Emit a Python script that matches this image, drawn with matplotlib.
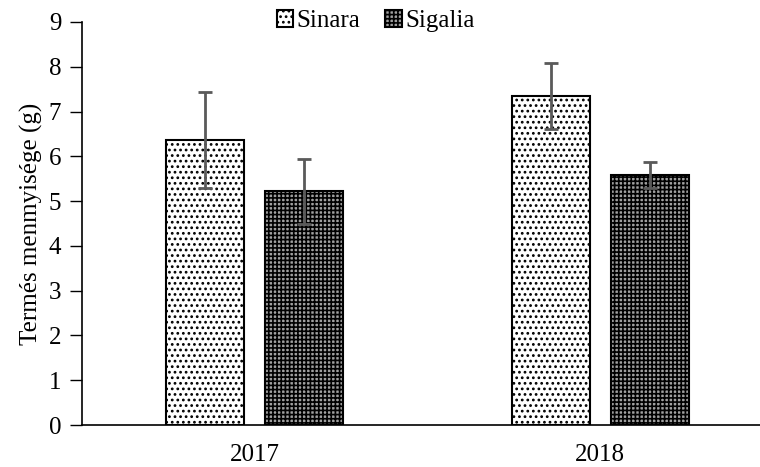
import matplotlib
matplotlib.use("Agg")
import matplotlib.pyplot as plt
import numpy as np

years = ["2017", "2018"]
sinara = [6.36, 7.34]
sinara_err = [1.07, 0.74]
sigalia = [5.22, 5.58]
sigalia_err = [0.73, 0.29]
yticks = list(range(0, 10))

plt.rcParams['font.family'] = ['Liberation Serif', 'DejaVu Serif']
plt.rcParams['hatch.linewidth'] = 1.2

fig = plt.figure(figsize=(7.6, 4.67), dpi=100)
ax = fig.add_axes([82/760, 42/467, 691/760, 403/467])

x = np.arange(len(years))
w = 0.226
off = 0.143
ekw = dict(ecolor='#5a5a5a', elinewidth=2, capsize=5, capthick=2)
b1 = ax.bar(x - off, sinara, w, color='white', edgecolor='black', linewidth=1.5,
            hatch='...', yerr=sinara_err, error_kw=ekw, label='Sinara', zorder=2)
b2 = ax.bar(x + off, sigalia, w, color='#a0a0a0', edgecolor='black', linewidth=1.5,
            hatch='++++', yerr=sigalia_err, error_kw=ekw, label='Sigalia', zorder=2)

ax.set_xlim(-0.5, 1.5)
ax.set_ylim(0, 9)
ax.set_yticks(yticks)
ax.set_xticks(x)
ax.set_xticklabels(years)
ax.tick_params(axis='y', labelsize=18, length=9, width=1, direction='out', pad=6)
ax.tick_params(axis='x', labelsize=18, length=0, pad=14)
for s in ['top', 'right']:
    ax.spines[s].set_visible(False)
ax.spines['left'].set_linewidth(1.2)
ax.spines['bottom'].set_linewidth(1.2)
ax.set_ylabel('Termés menmyisége (g)', fontsize=18, labelpad=4)

leg = ax.legend(loc='upper center', bbox_to_anchor=(0.425, 1.085), ncol=2, frameon=False,
                fontsize=18, handlelength=0.65, handleheight=0.65, handletextpad=0.15,
                columnspacing=1.0)

fig.savefig('out.png', dpi=100)
